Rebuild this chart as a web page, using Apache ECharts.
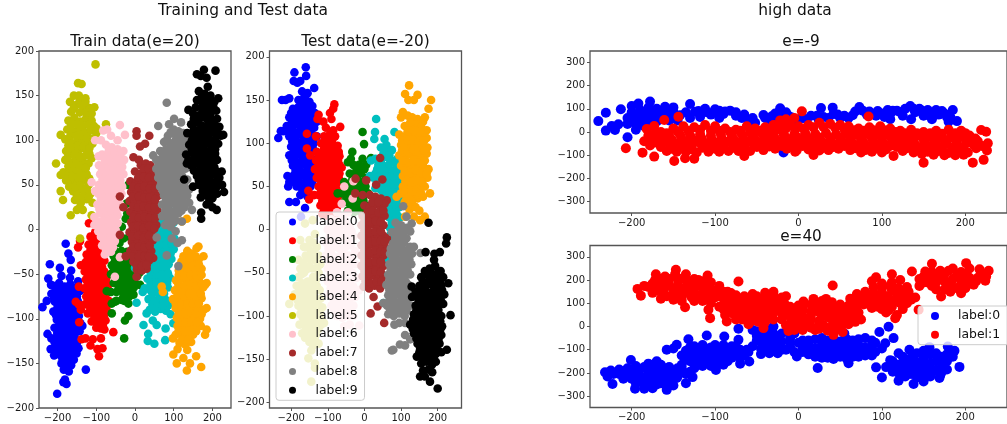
<!DOCTYPE html>
<html><head><meta charset="utf-8">
<style>html,body{margin:0;padding:0;background:#fff}#c{width:1007px;height:424px}</style>
<script src="https://cdn.jsdelivr.net/npm/echarts@6/dist/echarts.min.js"></script>
</head><body><div id="c"></div>
<script>
const train0=[-201,-184,-185,-171,-177,-173,-181,-168,-179,-16,-172,-27,-166,-34,-220,-39,-194,-43,-239,-87,-228,-80,-226,-117,-127,-157,-209,-141,-160,-141,-224,-55,-217,-62,-190,-52,-165,-46,-168,-54,-147,-58,-150,-70,-211,-63,-196,-60,-182,-64,-167,-61,-153,-65,-216,-72,-201,-74,-186,-70,-172,-75,-157,-72,-142,-69,-207,-81,-191,-84,-176,-80,-161,-83,-148,-80,-211,-92,-196,-89,-181,-93,-166,-90,-151,-94,-202,-101,-186,-103,-171,-99,-156,-102,-141,-105,-208,-110,-193,-113,-178,-109,-163,-112,-149,-110,-136,-108,-216,-122,-200,-119,-185,-123,-170,-120,-155,-122,-206,-131,-191,-128,-176,-132,-160,-129,-146,-133,-218,-134,-196,-140,-181,-138,-166,-141,-151,-139,-190,-150,-178,-147,-165,-152,-184,-157,-171,-159,-176,-155,
-204,-67,-189,-66,-175,-68,-160,-67,-146,-64,-209,-77,-194,-78,-180,-77,-165,-78,-150,-75,-200,-87,-184,-86,-170,-85,-155,-87,-143,-85,-204,-96,-189,-97,-174,-95,-160,-96,-145,-97,-195,-106,-180,-105,-165,-107,-150,-105,-201,-116,-186,-115,-171,-116,-156,-117,-143,-114,-208,-126,-193,-124,-178,-126,-163,-125,-150,-127,-199,-135,-184,-134,-170,-135,-155,-134,-188,-144,-173,-143,-158,-146,-183,-152,-171,-152];
const train1=[-119,7,-147,-20,-142,-13,-138,-123,-115,-130,-97,-134,-84,-133,-93,-142,-56,-115,-144,-104,-153,-81,-128,-122,-109,-123,-88,-122,-145,-84,-140,-90,-145,-64,-140,-40,-103,-3,-95,0,-115,-8,-104,-10,-93,-7,-120,-17,-108,-19,-96,-16,-85,-18,-125,-28,-112,-26,-100,-29,-88,-27,-128,-37,-116,-39,-103,-36,-91,-38,-79,-35,-130,-47,-118,-45,-105,-48,-92,-46,-79,-47,-127,-56,-115,-58,-101,-55,-88,-57,-75,-56,-130,-66,-117,-64,-104,-67,-91,-65,-77,-66,-126,-75,-113,-73,-100,-76,-87,-74,-74,-72,-130,-84,-117,-86,-104,-83,-91,-85,-78,-84,-68,-80,-122,-94,-109,-92,-96,-95,-83,-93,-72,-92,-112,-103,-99,-101,-86,-104,-76,-102,-100,-110,-88,-111,-79,-112,
-109,-14,-99,-12,-89,-13,-115,-23,-103,-23,-92,-22,-122,-33,-107,-32,-94,-32,-84,-31,-123,-42,-110,-43,-97,-42,-85,-42,-122,-51,-110,-52,-97,-51,-85,-52,-73,-52,-122,-61,-109,-61,-96,-60,-82,-61,-70,-62,-121,-70,-108,-71,-94,-70,-81,-70,-70,-67,-122,-80,-108,-79,-95,-80,-81,-79,-115,-89,-101,-89,-88,-89,-74,-87,-105,-98,-92,-99,-80,-97,-94,-107,-83,-107];
const train2=[-28,-122,-26,-102,-17,-97,-60,-94,-52,-81,-73,-69,-62,-70,-60,-83,-34,-79,-17,-83,-4,-73,13,-62,-17,50,-22,29,-24,12,-34,3,-56,-19,-20,18,-48,-80,-27,-80,-55,-30,-42,-32,-28,-29,-15,-33,0,-30,-60,-40,-47,-42,-34,-39,-20,-41,-6,-40,7,-44,-62,-50,-49,-51,-36,-49,-22,-52,-8,-50,6,-52,-55,-60,-42,-61,-28,-59,-14,-62,0,-60,-48,-70,-35,-69,-22,-71,-9,-68,-40,-15,-30,-10,-15,-8,-5,-15,
-50,-25,-35,-24,-20,-25,-5,-25,-52,-36,-38,-36,-25,-35,-12,-36,3,-37,-55,-46,-42,-46,-29,-45,-15,-46,-1,-45,12,-48,-48,-55,-35,-55,-20,-56,-6,-56,-42,-65,-28,-65,-15,-66,-3,-65,-30,-75,-15,-75];
const train3=[33,-125,50,-128,78,-124,34,-117,22,-107,46,-102,56,-107,79,-111,99,-105,86,-85,4,-82,0,-43,20,-70,30,-94,90,29,85,25,110,22,55,15,70,12,85,10,100,8,50,3,65,0,80,-3,95,1,42,-10,57,-13,72,-11,87,-13,102,-10,40,-22,55,-24,70,-21,85,-23,100,-22,35,-33,50,-35,65,-32,80,-35,94,-33,35,-45,50,-43,65,-46,80,-44,32,-55,47,-57,62,-54,77,-56,90,-54,25,-66,40,-68,55,-65,70,-67,85,-65,35,-78,50,-80,65,-77,80,-79,38,-90,52,-92,66,-89,80,-91,92,-95,
62,6,77,5,92,4,57,-5,72,-6,88,-7,50,-16,64,-17,79,-17,94,-16,47,-28,62,-27,77,-28,92,-27,42,-39,57,-39,72,-40,87,-39,42,-50,57,-50,72,-50,85,-49,40,-61,55,-60,68,-61,83,-60,45,-72,60,-72,75,-72,45,-84,58,-84,72,-85];
const train4=[134,-158,171,-154,108,-150,142,-150,99,-140,158,-142,125,-144,72,-70,69,-64,134,12,121,9,164,-19,159,-21,185,-88,181,-118,185,-112,185,-60,177,-30,98,-122,135,-24,146,-27,125,-30,120,-36,135,-38,150,-35,165,-33,113,-46,128,-48,143,-45,158,-47,172,-44,106,-57,121,-55,136,-58,151,-56,166,-58,181,-62,103,-68,118,-66,133,-69,148,-67,163,-69,176,-65,98,-78,113,-77,128,-79,143,-76,158,-79,172,-77,105,-88,120,-90,135,-87,150,-89,165,-88,178,-90,108,-99,123,-97,138,-100,153,-98,168,-100,110,-108,125,-110,140,-107,155,-109,170,-108,105,-118,120,-117,135,-120,150,-118,115,-127,130,-129,145,-126,110,-134,135,-135,
128,-33,142,-32,157,-30,120,-42,135,-43,150,-41,165,-39,113,-51,128,-52,143,-51,158,-52,172,-51,112,-62,128,-63,143,-62,158,-63,173,-61,110,-73,125,-73,140,-72,155,-74,170,-72,105,-83,120,-84,135,-83,150,-83,165,-83,113,-94,128,-94,143,-93,158,-94,172,-95,115,-104,130,-104,146,-103,160,-104,113,-113,128,-114,143,-113,158,-114,122,-123,137,-123];
const train5=[-102,185,-147,164,-138,163,-204,74,-192,61,-192,43,-186,33,-166,16,-112,16,-142,-10,-75,118,-192,106,-180,101,-99,113,-168,143,-105,137,-158,150,-145,150,-128,147,-150,140,-135,138,-118,136,-165,132,-172,122,-157,125,-142,121,-127,124,-112,122,-175,112,-160,110,-145,113,-130,109,-115,111,-100,108,-170,100,-155,97,-140,101,-125,98,-110,96,-178,88,-163,90,-148,87,-133,91,-118,85,-180,78,-165,75,-150,78,-135,76,-120,74,-185,64,-170,66,-155,63,-140,65,-125,62,-165,54,-150,52,-135,55,-120,50,-178,55,-160,43,-145,45,-130,42,-115,40,-155,33,-140,30,-125,34,-110,30,-150,22,-135,22,
-142,145,-128,143,-158,136,-143,131,-127,131,-112,130,-165,117,-150,118,-135,116,-120,117,-106,116,-167,105,-152,105,-137,106,-122,104,-107,102,-163,94,-148,94,-133,94,-118,91,-172,94,-172,83,-157,83,-142,82,-127,83,-112,80,-172,71,-157,70,-142,71,-127,69,-177,60,-162,59,-147,58,-132,59,-118,57,-170,48,-155,48,-140,49,-125,46,-150,38,-135,37,-120,36,-142,25];
const train6=[-39,117,-82,111,-72,112,-26,106,-52,-53,-39,-31,-103,100,-112,53,-103,43,-88,100,-62,105,-45,100,-94,82,-75,95,-60,92,-45,90,-30,88,-85,84,-70,82,-55,80,-40,83,-28,78,-93,72,-78,74,-63,71,-48,73,-33,70,-90,62,-75,60,-60,63,-45,60,-30,62,-93,50,-78,52,-63,49,-48,51,-33,48,-95,40,-80,38,-65,41,-50,39,-35,40,-97,28,-82,30,-67,27,-52,29,-38,28,-105,14,-90,18,-75,15,-60,18,-45,16,-105,5,-90,3,-75,6,-60,4,-45,7,-88,-8,-73,-5,-58,-8,-45,-6,-85,-18,-70,-17,-57,-20,-78,-28,
-68,88,-52,86,-37,85,-78,78,-62,76,-47,78,-33,76,-85,67,-70,66,-55,67,-40,66,-84,56,-69,56,-54,55,-38,55,-86,45,-71,45,-56,44,-41,44,-88,34,-73,34,-58,34,-43,34,-92,23,-77,22,-62,22,-47,22,-96,9,-82,10,-67,10,-52,11,-95,-2,-80,0,-65,-2,-50,0,-80,-12,-65,-12,-52,-13,-75,-23,-62,-25];
const train7=[4,110,4,105,37,105,26,96,13,93,-4,81,10,78,-39,37,-30,25,-39,-6,-24,-30,4,-53,47,-32,44,-10,15,72,28,74,40,72,0,65,14,62,28,64,42,62,54,66,-12,54,2,52,16,55,30,53,44,51,58,54,-10,42,4,44,18,41,32,43,46,40,60,38,-14,32,0,30,14,33,28,31,42,30,56,28,-12,20,2,18,16,21,30,19,44,20,58,22,-10,8,4,10,18,7,32,9,46,6,55,5,-14,-3,0,-2,14,-4,28,-1,42,-3,-8,-14,6,-12,20,-15,34,-13,46,-12,-12,-24,2,-26,16,-23,30,-25,42,-24,-4,-36,10,-34,24,-37,36,-35,5,-45,18,-46,30,-44,
22,68,35,68,48,67,8,58,22,59,36,58,50,58,-4,48,10,47,24,48,38,46,52,46,-5,37,10,37,24,36,38,36,52,34,-4,26,8,25,22,26,36,25,50,25,-4,14,10,13,24,14,38,13,52,13,-6,3,8,4,22,2,36,4,50,1,-7,-8,8,-7,22,-9,36,-7,-4,-19,10,-19,24,-20,38,-18,-5,-30,10,-30,24,-30,36,-30,4,-40,18,-41,30,-40];
const train8=[82,142,60,116,101,124,88,118,119,120,147,22,121,9,121,-12,112,-41,82,-29,56,-9,47,83,105,10,140,30,100,112,85,105,112,110,125,108,75,98,90,97,105,100,120,97,135,100,65,88,80,90,95,86,110,89,125,86,140,88,55,78,70,80,85,76,100,78,115,80,130,76,145,75,55,68,70,66,85,69,100,67,115,66,130,68,60,58,75,56,90,59,105,57,120,55,135,56,65,48,80,50,95,46,110,48,125,50,140,45,75,38,90,36,105,39,120,37,135,38,70,28,85,26,100,29,115,27,128,25,70,15,85,14,100,16,112,18,78,5,92,3,105,-2,95,-10,110,-15,
92,109,105,106,118,103,82,100,97,92,112,94,127,92,72,84,87,83,102,82,117,84,132,82,62,73,77,73,92,72,107,72,122,72,137,70,62,63,77,61,92,63,107,61,122,60,68,53,83,53,98,52,113,52,128,52,72,43,87,43,102,42,117,43,132,42,80,33,95,32,110,33,125,31,78,21,92,20,106,22,120,21,85,8,98,8];
const train9=[178,179,208,178,160,174,170,172,171,12,171,19,230,42,224,65,228,106,127,56,134,74,215,147,138,134,211,22,185,170,188,160,165,155,180,152,195,150,160,145,175,142,190,145,205,143,150,130,165,128,180,132,195,130,210,133,145,118,160,120,175,116,190,119,205,117,218,115,135,108,150,105,165,108,180,105,195,109,210,106,222,105,140,95,155,97,170,93,185,96,200,94,215,96,132,84,147,86,162,82,177,85,192,83,207,85,145,72,160,74,175,71,190,73,205,70,160,60,175,62,190,59,205,62,218,58,150,48,165,50,180,46,195,49,210,47,225,50,170,36,185,38,200,35,212,40,185,28,200,25,
172,148,187,148,157,137,172,136,187,137,202,138,152,124,167,124,182,125,197,124,212,124,152,112,167,112,182,111,197,113,212,111,147,100,162,101,177,100,192,102,207,100,147,90,162,90,177,90,192,88,207,90,138,78,153,79,168,77,183,79,198,77,212,78,152,66,167,67,182,66,197,66,212,65,165,55,180,54,195,54,210,54,175,43,190,43,205,42,192,32];
const test0=[-160,188,-191,182,-159,178,-137,164,-235,106,-205,32,-187,32,-162,25,-173,15,-225,150,-193,172,-183,170,-175,172,-228,114,-220,114,-210,62,-208,50,-170,160,-155,158,-180,150,-165,152,-150,148,-215,150,-205,152,-195,140,-180,142,-165,138,-150,140,-135,135,-205,130,-190,128,-175,132,-160,130,-145,127,-130,125,-212,120,-197,118,-182,122,-167,119,-152,117,-137,118,-205,108,-190,106,-175,110,-160,107,-145,105,-130,108,-200,96,-185,94,-170,98,-155,95,-140,93,-205,86,-190,84,-175,87,-160,85,-145,83,-195,74,-180,72,-165,76,-150,73,-140,70,-195,62,-180,60,-165,63,-150,60,-205,55,-185,50,-170,47,-155,50,-142,55,-175,40,-155,38,
-162,154,-172,145,-157,145,-142,143,-200,135,-187,135,-172,137,-157,135,-142,132,-198,124,-183,125,-168,125,-153,123,-138,122,-205,114,-190,112,-175,116,-160,113,-145,111,-197,102,-182,101,-167,103,-152,101,-138,100,-192,90,-177,92,-162,90,-147,89,-198,80,-183,78,-168,81,-153,79,-140,77,-188,68,-173,67,-158,68,-145,65,-190,55,-175,54,-160,56,-147,50,-165,43];
const test1=[-82,145,-85,140,-94,135,-90,128,-125,133,-128,128,-112,125,-66,119,-157,111,-157,94,-148,86,-153,45,-151,35,-137,40,-132,108,-105,118,-85,115,-110,108,-95,110,-80,108,-118,100,-103,98,-88,100,-73,97,-130,90,-115,88,-100,91,-85,88,-70,90,-132,80,-117,78,-102,81,-87,78,-72,80,-135,70,-120,68,-105,71,-90,68,-75,70,-62,72,-130,60,-115,58,-100,61,-85,58,-70,60,-125,50,-110,48,-95,51,-80,48,-65,50,-125,40,-110,38,-95,41,-80,38,-68,40,-120,28,-105,26,-90,29,-75,26,-115,18,-100,16,-85,19,-70,16,
-103,104,-88,104,-110,94,-95,94,-80,94,-125,85,-110,84,-95,85,-80,84,-68,85,-125,75,-110,74,-95,75,-80,74,-68,75,-125,65,-112,64,-97,65,-82,64,-68,65,-118,55,-105,54,-90,55,-75,54,-118,45,-103,44,-88,44,-73,44,-115,33,-100,33,-85,33,-72,33,-110,22,-95,22,-80,22];
const test2=[-5,113,-1,99,-33,90,18,83,-73,42,-37,82,-45,78,-15,75,-5,82,5,75,-30,75,-15,72,0,70,-40,65,-25,62,-10,65,5,60,-55,55,-42,52,-27,55,-12,52,3,50,-60,42,-47,44,-32,40,-17,42,-2,40,10,42,-55,32,-40,30,-25,33,-10,30,5,28,-45,22,-30,20,-15,22,0,20,
-22,68,-8,72,-33,58,-18,58,-3,55,-50,48,-35,47,-20,47,-5,46,-48,37,-33,35,-18,36,-3,34,-35,26,-18,26,-3,24];
const test3=[32,128,29,113,27,105,82,113,52,-85,58,-37,60,-30,18,80,15,62,55,105,60,98,45,95,60,90,75,92,30,82,45,80,60,84,75,80,90,82,35,70,50,68,65,72,80,68,95,70,25,60,40,58,55,60,70,58,85,60,100,55,30,48,45,46,60,50,75,46,90,48,60,38,75,36,90,38,100,34,65,26,80,24,95,26,68,14,83,12,97,14,70,2,85,0,65,-10,80,-14,75,-25,
52,88,68,86,38,75,52,74,68,76,85,76,30,65,45,63,60,65,75,63,90,65,33,53,48,52,63,54,78,52,93,54,52,42,68,42,83,42,95,44,68,32,83,30,97,32,72,20,88,18,75,8,90,6,72,-5];
const test4=[122,167,111,157,145,156,120,150,135,150,182,150,175,140,88,38,111,15,135,15,152,11,165,15,179,42,123,23,100,130,105,136,118,132,165,130,130,130,145,128,160,125,110,120,125,118,140,122,155,119,170,115,95,110,110,108,125,111,140,108,155,110,170,106,100,98,115,96,130,99,145,96,160,98,172,95,95,86,110,84,125,87,140,84,155,86,170,88,100,74,115,72,130,75,145,72,160,74,175,70,105,62,120,60,135,63,150,60,165,62,105,50,120,48,135,51,150,48,165,50,172,60,100,42,115,36,130,39,145,36,160,38,125,28,140,26,150,22,
125,124,138,115,152,113,118,114,103,103,118,103,133,104,148,102,163,103,103,92,118,90,133,93,148,90,163,92,105,80,120,78,135,81,150,78,165,80,110,68,125,66,140,69,155,66,170,65,112,56,128,55,142,57,158,55,112,44,128,44,142,44,155,42,110,32,130,33];
const test5=[-145,-176,-153,-149,-135,-155,-135,-160,-205,-86,-194,-78,-177,-110,-175,-12,-162,7,-141,11,-180,-35,-165,-20,-150,-12,-135,-5,-175,-45,-160,-30,-145,-25,-130,-20,-180,-55,-165,-50,-150,-42,-135,-35,-120,-40,-185,-65,-170,-62,-155,-60,-140,-55,-125,-50,-190,-75,-175,-75,-160,-72,-145,-70,-130,-65,-180,-88,-165,-85,-150,-82,-135,-80,-120,-80,-175,-98,-160,-95,-145,-95,-130,-92,-115,-90,-165,-108,-150,-105,-135,-105,-120,-102,-110,-108,-170,-120,-155,-118,-140,-118,-125,-115,-150,-130,-135,-128,-125,-132,-145,-140,
-155,-20,-140,-15,-168,-38,-152,-33,-138,-28,-125,-30,-172,-52,-158,-46,-142,-45,-128,-43,-178,-68,-162,-66,-148,-62,-132,-58,-182,-82,-168,-80,-152,-76,-138,-72,-122,-70,-172,-92,-158,-90,-142,-88,-128,-86,-168,-102,-152,-100,-138,-98,-122,-96,-160,-114,-145,-112,-130,-110,-118,-110,-162,-125,-148,-124,-132,-122,-140,-134];
const test6=[-55,50,-30,56,-32,36,-14,-111,-62,30,-75,20,-90,12,-75,10,-60,15,-45,20,-100,0,-85,-2,-70,2,-55,5,-40,3,-105,-15,-90,-12,-75,-14,-60,-10,-45,-12,-30,-8,-105,-30,-90,-28,-75,-32,-60,-28,-45,-30,-25,-25,-100,-45,-85,-42,-70,-46,-55,-44,-40,-42,-25,-40,-100,-60,-85,-58,-70,-60,-55,-58,-40,-60,-22,-56,-95,-75,-80,-72,-65,-75,-50,-72,-35,-74,-15,-70,-90,-88,-75,-86,-60,-88,-45,-86,-30,-88,-75,-100,-60,-102,-45,-100,-30,-100,-55,-112,-40,-110,
-83,5,-68,8,-52,10,-95,-8,-80,-8,-65,-5,-50,-4,-35,-2,-98,-22,-83,-20,-68,-22,-52,-20,-38,-18,-95,-38,-80,-36,-65,-38,-50,-36,-35,-35,-92,-52,-78,-50,-62,-52,-48,-50,-32,-50,-92,-68,-78,-66,-62,-68,-48,-66,-30,-66,-85,-80,-70,-80,-55,-80,-40,-80,-25,-78,-82,-94,-68,-94,-52,-94,-38,-94];
const test7=[43,83,-24,59,5,57,49,58,-5,40,-25,42,32,52,61,34,17,-97,54,-108,36,-89,25,-78,15,40,30,38,45,36,0,28,15,26,30,29,45,26,55,30,-5,16,10,14,25,17,40,14,55,16,-8,5,7,3,22,6,37,3,52,5,-8,-7,7,-9,22,-6,37,-9,52,-7,62,-10,-8,-18,7,-20,22,-17,37,-20,50,-18,62,-22,-8,-30,7,-32,22,-29,37,-32,52,-30,-8,-42,7,-44,22,-41,37,-44,52,-42,-5,-54,10,-56,25,-53,40,-56,52,-54,-2,-66,13,-68,28,-65,43,-68,
22,32,38,32,8,20,22,22,38,20,52,22,0,10,15,9,30,10,45,9,0,-1,15,-3,30,-2,45,-2,0,-13,15,-14,30,-14,45,-13,56,-14,0,-24,15,-26,30,-24,45,-25,56,-26,0,-36,15,-38,30,-37,45,-37,0,-48,15,-50,30,-48,45,-49,3,-60,18,-62,33,-60,46,-60];
const test8=[106,27,115,15,129,7,153,-27,111,-122,125,-127,97,-133,111,-134,79,-139,75,-140,82,-110,111,-108,52,-85,85,8,100,5,115,2,75,-3,90,-5,105,-7,125,-2,78,-16,93,-18,108,-15,125,-20,135,-20,70,-28,85,-30,100,-27,115,-30,130,-28,68,-40,83,-42,98,-39,113,-42,128,-40,65,-52,80,-54,95,-51,110,-54,125,-52,60,-64,75,-66,90,-63,105,-66,120,-64,65,-76,80,-78,95,-75,110,-78,125,-76,62,-88,77,-90,92,-87,107,-90,125,-88,65,-98,80,-100,95,-97,110,-100,95,-108,
92,0,108,-2,85,-10,100,-11,115,-10,72,-22,88,-24,103,-22,118,-24,78,-34,93,-36,108,-34,123,-35,72,-46,88,-48,103,-46,118,-47,68,-58,83,-60,98,-58,113,-60,68,-70,83,-72,98,-70,113,-72,70,-82,85,-84,100,-82,115,-84,70,-93,85,-95,100,-93,115,-94];
const test9=[225,-9,223,-16,206,-26,191,-28,167,-26,175,8,200,-184,179,-176,152,-170,143,-147,235,-99,129,-66,225,-139,229,-62,190,-35,165,-170,185,-165,178,-45,193,-42,208,-48,155,-55,170,-52,185,-55,200,-58,215,-55,150,-65,165,-66,180,-63,195,-67,210,-65,130,-78,145,-76,160,-79,175,-76,190,-79,205,-77,218,-75,140,-88,155,-90,170,-87,185,-90,200,-88,215,-86,135,-98,150,-100,165,-97,180,-100,195,-98,210,-100,125,-110,140,-108,155,-111,170,-108,185,-111,200,-109,212,-112,135,-120,150,-122,165,-119,180,-122,195,-120,210,-122,145,-132,160,-130,175,-133,190,-130,205,-132,150,-142,165,-144,180,-141,195,-144,210,-142,155,-155,170,-153,185,-156,195,-153,160,-163,175,-162,
165,-48,182,-50,200,-50,160,-60,177,-59,192,-61,207,-60,140,-72,155,-71,170,-72,185,-72,200,-72,212,-70,148,-82,163,-83,178,-83,193,-83,208,-81,142,-93,157,-94,172,-92,187,-94,202,-93,133,-104,148,-104,163,-103,178,-105,193,-104,207,-106,132,-115,147,-115,162,-114,177,-115,192,-115,207,-116,142,-126,157,-126,172,-125,187,-126,202,-127,152,-137,167,-138,182,-137,197,-137,158,-148,173,-148,188,-148];
const lowE0=[-240,47,-231,83,-231,6,-224,26,-220,9,-216,33,-213,98,-200,112,-192,123,-178,131,-130,121,-160,109,-150,106,-205,-23,-18,-88,27,103,41,105,185,95,190,47,180,44,-22,102,-205,60,-205,35,-200,85,-195,60,-195,35,-195,10,-190,95,-185,75,-185,50,-185,25,-180,105,-175,85,-175,60,-170,100,-165,80,-160,90,-155,70,-150,85,-142,72,-130,60,-124,87,-118,65,-112,100,-105,75,-100,98,-95,60,-90,78,-82,92,-75,70,-68,60,-60,45,-52,40,-42,73,-35,55,-28,80,-20,60,-12,70,-5,55,5,60,15,70,24,55,36,60,47,75,55,70,60,60,65,72,73,108,82,75,85,88,93,70,95,90,103,65,107,95,118,92,125,70,134,112,140,85,145,100,150,70,155,95,160,80,165,95,172,90,178,65,160,55,135,55,110,55,
-200,70,-200,45,-190,75,-190,40,-180,85,-180,40,-170,70,-170,45,-165,55,-160,70,-155,50,-150,65,-145,50,-135,85,-120,90,-110,85,-102,85,-95,92,-88,88,-75,85,-65,75,-55,60,-40,60,-32,68,-25,65,-15,85,-8,62,0,55,10,55,22,70,30,65,42,78,50,60,68,88,77,92,88,78,100,80,110,78,113,92,122,85,128,100,138,100,148,92,155,75,168,75,175,80,182,65];
const lowE1=[-207,-70,-187,-89,-173,-106,-149,-125,-136,-113,-125,-115,-182,13,-173,26,-161,52,-144,66,4,89,84,67,-4,-85,-65,-103,150,-132,209,-132,222,-120,219,9,225,1,226,-80,227,-49,114,-103,18,-99,-165,0,-150,15,-138,25,-125,20,-112,30,-100,25,-88,15,-75,10,-62,25,-52,15,-40,20,-30,30,-20,35,-10,30,0,25,12,30,25,40,38,35,50,30,60,25,72,15,85,20,98,25,110,15,122,5,135,10,150,0,165,5,180,10,195,5,-22,50,-15,55,-5,60,-180,-15,-168,-12,-155,-18,-142,-12,-130,-15,-118,-10,-105,-15,-93,-12,-80,-15,-68,-10,-55,-14,-43,-10,-30,-12,-18,-8,-5,-10,8,-5,20,-8,33,-5,45,-10,58,-8,70,-12,83,-10,95,-8,108,-12,120,-15,133,-20,145,-15,158,-18,170,-15,183,-18,195,-15,205,-15,-185,-40,-172,-45,-160,-42,-147,-48,-135,-45,-122,-42,-110,-48,-98,-45,-85,-42,-72,-46,-60,-42,-47,-45,-35,-42,-22,-40,-10,-35,3,-38,15,-40,28,-42,40,-45,52,-40,65,-48,78,-45,90,-42,102,-48,115,-45,128,-50,140,-55,152,-50,165,-48,178,-52,190,-48,203,-45,215,-40,-165,-65,-152,-72,-140,-70,-128,-75,-115,-68,-100,-72,-90,-70,-78,-68,-65,-70,-50,-65,-35,-62,-20,-60,-8,-65,5,-60,18,-65,30,-68,42,-65,55,-60,68,-70,80,-78,92,-72,105,-75,118,-65,130,-70,142,-75,155,-85,168,-82,180,-90,192,-85,203,-88,213,-70,
-172,-5,-158,-5,-145,2,-132,5,-118,10,-105,5,-95,5,-82,0,-70,5,-58,0,-46,5,-35,8,-25,12,-15,15,-4,10,6,15,18,20,30,22,44,18,55,12,66,8,78,5,90,8,103,8,116,0,128,-5,142,-5,158,-5,172,-8,188,-5,200,-5,-178,-28,-166,-30,-152,-32,-140,-30,-128,-28,-116,-28,-104,-32,-92,-28,-78,-30,-66,-28,-53,-28,-40,-26,-28,-28,-15,-24,-2,-22,10,-22,25,-24,38,-26,50,-24,62,-28,75,-30,88,-26,100,-28,112,-30,125,-32,138,-36,150,-32,162,-32,175,-34,188,-32,200,-30,212,-28,-178,-58,-165,-55,-153,-58,-140,-58,-128,-58,-116,-56,-104,-60,-92,-58,-78,-55,-66,-56,-53,-55,-40,-52,-28,-50,-15,-50,-2,-52,10,-52,22,-52,35,-55,47,-52,60,-55,72,-58,85,-60,97,-58,110,-60,123,-58,135,-60,147,-65,160,-65,172,-68,185,-68,198,-65,210,-55,220,-60,-158,-82,-146,-85,-135,-85,-122,-88,-108,-85,-95,-85,-84,-82,-72,-82,-58,-82,-42,-78,-28,-72,-14,-72,-2,-78,12,-75,25,-80,36,-78,48,-72,62,-78,75,-88,88,-85,100,-88,125,-82,138,-88,148,-95,162,-98,175,-100,188,-100,198,-98];
const highE0=[-232,-197,-229,-215,-223,-248,-201,-144,-196,-268,-158,-273,-175,-266,-185,-268,-127,-218,-135,-244,-146,-222,-150,-254,-215,-185,-205,-200,-195,-170,-180,-160,-170,-150,-160,-180,-210,-225,-195,-205,-180,-195,-165,-205,-150,-195,-190,-235,-175,-230,-160,-235,-145,-200,-130,-195,-185,-255,-170,-250,-155,-255,-150,-225,-225,-190,-158,-100,-150,-95,-146,-79,-132,-55,-110,-39,-89,-43,-72,-10,-72,-57,-59,-151,-99,-187,-140,-125,-135,-105,-130,-150,-125,-85,-120,-130,-115,-170,-110,-100,-105,-145,-100,-80,-95,-120,-90,-165,-85,-95,-80,-135,-75,-105,-70,-160,-65,-125,-60,-110,-125,-180,-140,-165,-145,-180,-45,-119,-35,-115,-25,-115,-2,-129,23,-179,60,-158,108,-1,114,-50,104,-72,93,-176,97,-24,-55,-15,-50,-60,-55,-85,-40,-40,-40,-80,-30,0,-25,-50,-25,-85,-10,-50,-15,-100,5,-60,5,-90,20,-55,20,-95,20,-130,35,-60,35,-100,35,-135,50,-65,50,-100,50,-130,65,-60,65,-95,65,-130,80,-50,80,-90,80,-125,92,-70,92,-110,100,-95,-5,-30,-35,-25,55,-30,193,-174,187,-105,179,-86,157,-89,100,-220,150,-237,138,-248,120,-234,169,-222,105,-175,110,-145,120,-115,120,-165,120,-200,133,-100,135,-135,135,-170,135,-205,150,-105,150,-140,150,-175,150,-205,165,-115,165,-150,165,-190,178,-120,178,-150,178,-185,170,-210,
-222,-205,-212,-205,-205,-180,-205,-215,-200,-225,-190,-185,-190,-215,-185,-175,-175,-175,-170,-190,-170,-215,-165,-165,-165,-225,-158,-205,-155,-175,-155,-190,-155,-215,-145,-215,-140,-190,-180,-245,-165,-245,-195,-245,-185,-222,-215,-205,-200,-190,-175,-210,-140,-180,-135,-205,-135,-125,-130,-90,-130,-120,-125,-105,-125,-135,-120,-95,-120,-150,-115,-80,-115,-115,-115,-135,-110,-130,-110,-155,-105,-90,-105,-115,-105,-170,-100,-100,-100,-135,-95,-95,-95,-150,-90,-80,-90,-105,-90,-130,-85,-115,-85,-150,-80,-85,-80,-110,-75,-85,-75,-125,-70,-100,-70,-135,-62,-100,-125,-155,-100,-160,-135,-135,-50,-20,-50,-40,-45,-20,-45,-60,-45,-95,-35,-15,-35,-60,-35,-95,-30,-30,-30,-70,-30,-105,-20,-30,-20,-65,-20,-100,-10,-70,-10,-90,-5,-110,0,-70,5,-110,12,-60,12,-75,12,-100,12,-120,28,-50,28,-80,28,-110,28,-135,42,-55,42,-80,42,-115,42,-140,58,-55,58,-80,58,-115,58,-140,72,-55,72,-80,72,-110,72,-130,88,-60,88,-85,88,-105,88,-125,113,-170,113,-150,113,-195,125,-130,128,-150,128,-185,128,-215,142,-115,142,-155,142,-190,142,-220,158,-120,158,-160,158,-185,158,-215,172,-130,172,-165,172,-195,185,-130];
const highE1=[-193,162,-189,133,-136,83,-147,244,-171,225,-109,220,-108,72,-106,36,-172,200,-160,215,-148,225,-135,225,-125,205,-115,195,-180,170,-168,180,-156,190,-144,195,-132,190,-120,180,-108,170,-175,145,-162,150,-150,160,-138,155,-126,150,-114,150,-100,155,-95,175,-90,150,-165,120,-150,115,-140,125,-125,110,-110,120,-100,125,-85,130,-105,100,-88,110,-80,90,-75,135,-72,194,-81,144,-89,105,-86,22,-42,-7,-95,85,-85,70,-88,50,-75,115,-65,130,-55,140,-40,145,-30,150,-15,130,-60,105,-45,115,-30,120,-18,110,-70,85,-55,85,-40,90,-25,90,-10,85,-78,55,-65,60,-50,60,-35,65,-20,55,-75,30,-60,30,-48,20,-60,10,-35,35,-20,30,41,177,18,119,53,-24,42,-36,-12,-19,33,119,6,108,0,90,15,95,28,110,40,105,50,95,-10,70,5,70,20,75,35,80,50,75,62,80,-15,50,0,45,15,50,30,55,45,55,60,55,72,60,75,30,-5,25,10,20,25,25,40,30,55,30,68,20,-15,5,0,0,15,0,30,5,45,0,60,10,5,-15,20,-15,35,-18,-5,-15,112,225,93,212,136,237,116,36,144,72,62,120,70,140,80,150,90,170,88,195,100,185,112,190,122,200,130,170,75,110,88,125,100,145,112,155,125,140,85,95,97,100,110,115,122,100,135,115,100,75,112,85,125,75,105,60,118,50,160,270,201,273,228,240,217,247,224,197,152,237,171,129,195,143,145,205,145,175,155,220,155,190,165,160,170,240,170,205,180,180,182,150,185,250,190,220,195,185,200,165,205,250,205,210,213,195,220,225,210,180,
-185,175,-175,165,-175,185,-165,205,-165,165,-160,135,-155,175,-155,205,-150,140,-145,175,-145,210,-140,110,-135,170,-135,205,-130,140,-125,170,-120,135,-120,200,-115,165,-110,135,-105,190,-95,130,-95,145,-85,150,-80,115,-75,100,-105,150,-140,150,-170,155,-158,130,-128,125,-115,110,-125,140,-165,190,-90,75,-85,90,-80,60,-75,75,-70,105,-70,65,-65,95,-65,45,-60,75,-55,120,-55,100,-55,65,-50,130,-50,45,-50,80,-45,95,-45,75,-40,125,-40,50,-35,105,-35,80,-30,135,-30,60,-25,110,-25,75,-20,125,-15,90,-15,70,-10,60,-68,30,-55,25,-42,35,-30,30,-40,20,-52,35,-8,40,-5,55,0,20,0,65,5,85,8,35,8,10,15,65,15,30,15,-5,22,85,25,60,25,15,25,-10,30,95,35,40,38,-5,40,65,45,85,45,20,50,45,50,-10,55,70,60,40,60,90,65,70,65,50,70,40,70,95,-8,15,-8,25,55,15,65,105,72,125,78,95,80,130,85,115,90,145,92,100,95,130,100,165,102,115,105,90,105,130,110,175,112,100,118,140,120,165,120,115,125,90,128,130,132,150,130,100,140,125,108,70,95,85,88,80,150,215,150,190,160,235,160,205,160,175,165,220,165,190,175,225,175,195,175,160,185,205,185,170,190,165,195,235,195,205,200,225,200,185,210,195,215,210,225,215,180,240];

const digitColors=['#0000ff','#ff0000','#008000','#00bfbf','#ffa500','#bfbf00','#ffc0cb','#a52a2a','#808080','#000000'];
const digitNames=['label:0','label:1','label:2','label:3','label:4','label:5','label:6','label:7','label:8','label:9'];
const binaryNames=['label:0','label:1'];
const trainSets=[train0,train1,train2,train3,train4,train5,train6,train7,train8,train9];
const testSets=[test0,test1,test2,test3,test4,test5,test6,test7,test8,test9];
const ticksX=[-200,-100,0,100,200];
const ticksTrainY=[-200,-150,-100,-50,0,50,100,150,200];
const ticksTestY=[-200,-150,-100,-50,0,50,100,150,200];
const ticksHighY=[-300,-200,-100,0,100,200,300];

const pairs=f=>{const o=[];for(let i=0;i<f.length;i+=2)o.push([f[i],f[i+1]]);return o;};
const edge='#555';
const label={color:'#1a1a1a',fontFamily:'DejaVu Sans',fontSize:10,margin:5,formatter:v=>String(v).replace('-','\u2212')};
const axis=(idx,min,max,ticks)=>({type:'value',gridIndex:idx,min,max,splitLine:{show:false},axisLine:{show:false,onZero:false},
  axisTick:{show:true,length:3,inside:false,customValues:ticks,lineStyle:{color:edge,width:1}},
  axisLabel:Object.assign({},label,{customValues:ticks})});
const grids=[
 {left:39,top:51,width:192,height:357},
 {left:269.5,top:51,width:192,height:357},
 {left:590,top:51,width:423,height:162},
 {left:590,top:245.5,width:423,height:162}
].map(g=>Object.assign(g,{show:true,borderColor:edge,borderWidth:1.3,backgroundColor:'#fff'}));
const xAxis=[axis(0,-248,248,ticksX),axis(1,-259,265,ticksX),axis(2,-250,250,ticksX),axis(3,-250,250,ticksX)];
const yAxis=[axis(0,-200,200,ticksTrainY),axis(1,-206.5,206.8,ticksTestY),axis(2,-349,349,ticksHighY),axis(3,-349,349,ticksHighY)];
const series=[];
const add=(name,color,flat,g,size)=>series.push({type:'scatter',name,xAxisIndex:g,yAxisIndex:g,data:pairs(flat),symbolSize:size,itemStyle:{color,opacity:1},silent:true,large:false,animation:false});
trainSets.forEach((s,i)=>add(digitNames[i],digitColors[i],s,0,8.6));
testSets.forEach((s,i)=>add(digitNames[i],digitColors[i],s,1,8.6));
add(binaryNames[0],digitColors[0],lowE0,2,10);
add(binaryNames[1],digitColors[1],lowE1,2,10);
add(binaryNames[0],digitColors[0],highE0,3,10);
add(binaryNames[1],digitColors[1],highE1,3,10);
const title=(text,x,y,size)=>({text,left:x,top:y,textAlign:'center',padding:0,textStyle:{fontFamily:'DejaVu Sans',fontWeight:'normal',fontSize:size,color:'#111'}});
const legend=(names,left,top,iconW,iconH,gap,pad)=>({show:true,orient:'vertical',left,top,data:names,icon:'circle',itemWidth:iconW,itemHeight:iconH,itemGap:gap,selectedMode:false,
  padding:pad,backgroundColor:'rgba(255,255,255,0.8)',borderColor:'#ccc',borderWidth:1,borderRadius:3,z:10,
  textStyle:{fontFamily:'DejaVu Sans',fontSize:12.4,color:'#111'}});
const chart=echarts.init(document.getElementById('c'),null,{renderer:'canvas'});
chart.setOption({animation:false,backgroundColor:'#fff',
 title:[title('Training and Test data',243,3,15.45),title('high data',795,3,15.45),
  title('Train data(e=20)',135,35,15.3),title('Test data(e=-20)',365.5,35,15.3),
  title('e=-9',801,35,15.3),title('e=40',801,230,15.3)],
 grid:grids,xAxis,yAxis,series,
 legend:[legend(digitNames,276,212,36,7,6.7,[4,7,4,13]),legend(binaryNames,918,306,36,8,6.7,[4,60,4,13])]
});
</script></body></html>
